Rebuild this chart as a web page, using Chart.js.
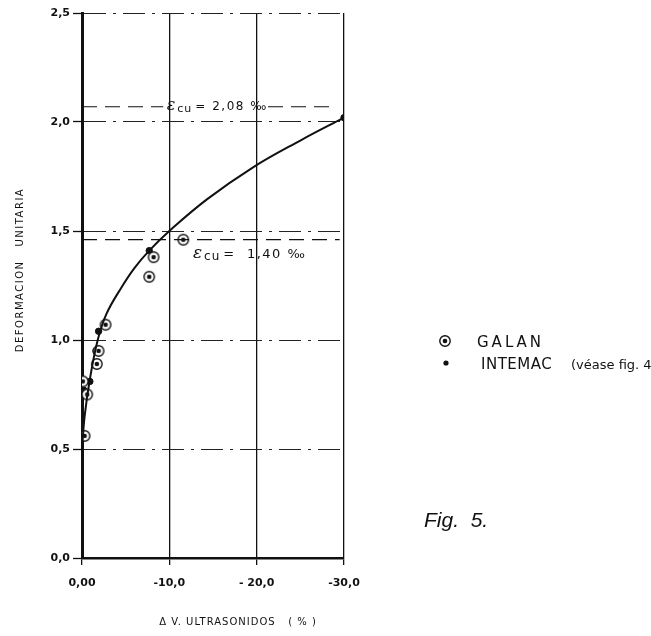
<!DOCTYPE html>
<html>
<head>
<meta charset="utf-8">
<script src="https://cdn.jsdelivr.net/npm/chart.js@4/dist/chart.umd.min.js"></script>
<style>
  html, body { margin:0; padding:0; background:#fff; }
  #wrap { width:651px; height:636px; }
</style>
</head>
<body>
<div id="wrap"><canvas id="fig5" width="651" height="636"></canvas></div>
<script>
// ---- data ----
const galanX = [-0.1, -0.6, -1.7, -1.9, -2.7, -7.7, -8.2, -11.6, -0.3];
const galanY = [0.81, 0.75, 0.89, 0.95, 1.07, 1.29, 1.38, 1.46, 0.56];

const intemacX = [-30, -7.7, -1.9, -1.6, -0.9, -0.1, -0.2];
const intemacY = [2.02, 1.41, 1.04, 0.95, 0.81, 0.81, 0.77];

// fitted curve
const curveX = [0, -0.3, -0.9, -1.8, -2.8, -4.5, -6, -7.7, -10, -14.3, -19.5, -25, -30];
const curveY = [0.5, 0.65, 0.82, 1.0, 1.12, 1.24, 1.33, 1.41, 1.50, 1.645, 1.79, 1.915, 2.02];

// ultimate strain levels (dashed lines, split where the label sits) and their labels
const epsLevels = [2.07, 2.07, 1.46];
const epsFrom = [0, -21.3, 0];
const epsTo = [-9.3, -28.5, -29.5];
const epsLabels = ['2,08 ‰', '1,40 ‰'];

const xTickLabels = ['0,00', '-10,0', '- 20,0', '-30,0'];
const yTickLabels = ['0,0', '0,5', '1,0', '1,5', '2,0', '2,5'];

const toPts = (xs, ys) => xs.map((x, i) => ({x: x, y: ys[i]}));

// GALAN marker: ring with a dot
const ring = document.createElement('canvas');
ring.width = 14; ring.height = 14;
{
  const c = ring.getContext('2d');
  c.fillStyle = '#fff';
  c.strokeStyle = '#111';
  c.lineWidth = 1.4;
  c.beginPath(); c.arc(7, 7, 5.2, 0, Math.PI * 2); c.fill(); c.stroke();
  c.fillStyle = '#111';
  c.beginPath(); c.arc(7, 7, 2.3, 0, Math.PI * 2); c.fill();
}

const epsSets = epsLevels.map((v, i) => ({
  type: 'line',
  data: [{x: epsFrom[i], y: v}, {x: epsTo[i], y: v}],
  borderColor: '#111',
  borderWidth: 1.2,
  borderDash: [15, 8],
  pointRadius: 0,
  fill: false
}));

const TICK_FONT = {family: 'DejaVu Sans', size: 11, weight: 'bold'};

function drawEps(ctx, x, y, value, size, gap) {
  ctx.save();
  ctx.fillStyle = '#111';
  ctx.textBaseline = 'alphabetic';
  ctx.textAlign = 'left';
  ctx.font = 'italic ' + (size + 4) + 'px "DejaVu Serif"';
  ctx.fillText('ε', x, y);
  let w = ctx.measureText('ε').width + 2;
  ctx.font = (size - 1) + 'px "DejaVu Sans"';
  ctx.letterSpacing = '1px';
  ctx.fillText('cu', x + w, y + 2);
  w += ctx.measureText('cu').width + 3;
  ctx.font = size + 'px "DejaVu Sans"';
  ctx.letterSpacing = '1.5px';
  ctx.fillText('=' + gap + value, x + w, y);
  ctx.restore();
}

const decorations = {
  id: 'decorations',
  afterDraw(chart) {
    const {ctx, scales: {x, y}} = chart;
    ctx.save();
    ctx.fillStyle = '#111';

    // axis titles
    ctx.font = '10px "DejaVu Sans"';
    ctx.textAlign = 'center';
    ctx.textBaseline = 'middle';
    ctx.save();
    ctx.translate(20, 270);
    ctx.rotate(-Math.PI / 2);
    ctx.letterSpacing = '1.5px';
    ctx.fillText('DEFORMACION   UNITARIA', 0, 0);
    ctx.restore();
    ctx.letterSpacing = '1px';
    ctx.fillText('Δ V. ULTRASONIDOS   ( % )', 238, 622);
    ctx.letterSpacing = '0px';

    // strain labels
    drawEps(ctx, x.getPixelForValue(-9.7), y.getPixelForValue(2.055), epsLabels[0], 12, ' ');
    drawEps(ctx, x.getPixelForValue(-12.7), y.getPixelForValue(1.375), epsLabels[1], 13, '  ');

    // legend
    ctx.drawImage(ring, 438, 334);
    ctx.beginPath(); ctx.arc(446, 363, 2.6, 0, Math.PI * 2); ctx.fill();
    ctx.textAlign = 'left';
    ctx.textBaseline = 'alphabetic';
    ctx.font = '15px "DejaVu Sans"';
    ctx.letterSpacing = '3px';
    ctx.fillText('GALAN', 477, 347);
    ctx.letterSpacing = '0.5px';
    ctx.fillText('INTEMAC', 481, 369);
    ctx.letterSpacing = '0px';
    ctx.font = '13px "DejaVu Sans"';
    ctx.fillText('(véase fig. 4)', 571, 369);

    // figure caption
    ctx.font = 'italic 21px "Liberation Sans"';
    ctx.fillText('Fig.  5.', 424, 527);
    ctx.restore();
  }
};

new Chart(document.getElementById('fig5'), {
  type: 'scatter',
  data: {
    datasets: [
      {
        type: 'line',
        label: 'curva',
        data: toPts(curveX, curveY),
        borderColor: '#111',
        borderWidth: 2,
        pointRadius: 0,
        tension: 0.4,
        fill: false
      },
      ...epsSets,
      {
        label: 'GALAN',
        data: toPts(galanX, galanY),
        pointStyle: ring,
        pointRadius: 7
      },
      {
        label: 'INTEMAC',
        data: toPts(intemacX, intemacY),
        backgroundColor: '#111',
        borderColor: '#111',
        pointRadius: 3.2
      }
    ]
  },
  options: {
    responsive: false,
    animation: false,
    layout: {padding: {left: 0, top: 13, right: 307, bottom: 0}},
    plugins: {legend: {display: false}, tooltip: {enabled: false}},
    scales: {
      x: {
        type: 'linear',
        min: -30, max: 0,
        reverse: true,
        afterFit: s => { s.height = 78; },
        ticks: {
          stepSize: 10,
          color: '#111',
          font: TICK_FONT,
          padding: 12,
          maxRotation: 0,
          callback: v => xTickLabels[Math.round(-v / 10)]
        },
        grid: {color: '#111', lineWidth: 1.3, tickLength: 7, tickColor: '#111'},
        border: {display: true, color: '#111', width: 2.5}
      },
      y: {
        type: 'linear',
        min: 0, max: 2.5,
        afterFit: s => { s.width = 82; },
        ticks: {
          stepSize: 0.5,
          color: '#111',
          font: TICK_FONT,
          padding: 3,
          callback: v => yTickLabels[Math.round(v * 2)]
        },
        grid: {color: '#222', lineWidth: 1, tickLength: 9, tickColor: '#111', tickWidth: 1.3},
        border: {display: true, color: '#111', width: 3, dash: [22, 7, 3, 7]}
      }
    }
  },
  plugins: [decorations]
});
</script>
</body>
</html>
